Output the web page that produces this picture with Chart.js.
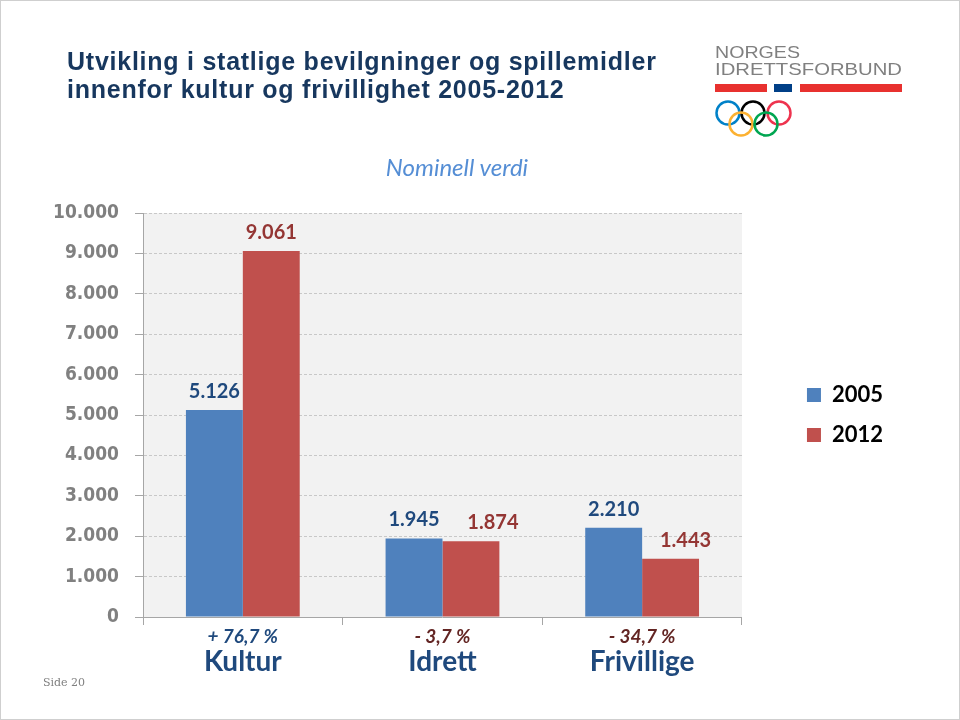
<!DOCTYPE html>
<html lang="no">
<head>
<meta charset="utf-8">
<title>Utvikling i statlige bevilgninger og spillemidler</title>
<script src="https://cdn.jsdelivr.net/npm/chart.js@4.4.1/dist/chart.umd.min.js"></script>
<style>
	html, body { margin: 0; padding: 0; background: #fff; }
	#slide { position: relative; width: 960px; height: 720px; overflow: hidden; }
	#chart-wrap { position: absolute; left: 0; top: 0; width: 960px; height: 720px; }
	#frame { position: absolute; left: 0; top: 0; width: 960px; height: 720px; box-sizing: border-box; border: 1px solid #cfcfcf; pointer-events: none; }
	.slide-title { position: absolute; left: 67px; top: 47px; margin: 0; font: bold 25px "Liberation Sans", Arial, sans-serif; letter-spacing: 0.75px; line-height: 28px; color: #17375E; }
	.subtitle { position: absolute; left: 0; top: 152px; width: 914px; text-align: center; font: italic 24px Lato, sans-serif; color: #558ED5; }
	.page-no { position: absolute; left: 43px; top: 676px; font: 11px "DejaVu Serif", serif; color: #7f7f7f; }
	#logo { position: absolute; left: 700px; top: 30px; }
</style>
</head>
<body>
<div id="slide">
	<div id="chart-wrap"><canvas id="chart"></canvas></div>

	<h1 class="slide-title">Utvikling i statlige bevilgninger og spillemidler<br>innenfor kultur og frivillighet 2005-2012</h1>
	<div class="subtitle">Nominell verdi</div>
	<div class="page-no">Side 20</div>

	<!-- Norges Idrettsforbund logo -->
	<svg id="logo" width="220" height="120" viewBox="0 0 220 120">
		<text x="15" y="28" font-family="Liberation Sans, Arial" font-size="17" fill="#808080" textLength="85" lengthAdjust="spacingAndGlyphs">NORGES</text>
		<text x="15" y="45" font-family="Liberation Sans, Arial" font-size="17" fill="#808080" textLength="187" lengthAdjust="spacingAndGlyphs">IDRETTSFORBUND</text>
		<rect x="15" y="54" width="52" height="8" fill="#E8312F"></rect>
		<rect x="74" y="54" width="18" height="8" fill="#003F87"></rect>
		<rect x="100" y="54" width="102" height="8" fill="#E8312F"></rect>
		<g fill="none" stroke-width="2.5">
			<circle cx="28" cy="83" r="11.5" stroke="#0081C8"></circle>
			<circle cx="53" cy="83" r="11.5" stroke="#000000"></circle>
			<circle cx="79" cy="83" r="11.5" stroke="#EE334E"></circle>
			<circle cx="41" cy="94" r="11.5" stroke="#FCB131"></circle>
			<circle cx="66" cy="94" r="11.5" stroke="#00A651"></circle>
		</g>
	</svg>

	<div id="frame"></div>
</div>

<script>
// Chart data (in 1000 NOK)
var categories   = ['Kultur', 'Idrett', 'Frivillige'];
var changeLabels = ['+ 76,7 %', '- 3,7 %', '- 34,7 %'];
var seriesNames  = ['2005', '2012'];
var values2005   = [5126, 1945, 2210];
var values2012   = [9061, 1874, 1443];
var yMin         = 0;
var yMax         = 10000;
var yStep        = 1000;

(function () {
	'use strict';

	var BLUE       = '#4F81BD';
	var RED        = '#C0504D';
	var DARK_BLUE  = '#1F497D';
	var DARK_RED   = '#943634';
	var BROWN_RED  = '#632523';
	var AXIS_GRAY  = '#a6a6a6';

	// 5126 -> "5.126"
	function formatThousands(value) {
		return String(value).replace(/\B(?=(\d{3})+(?!\d))/g, '.');
	}

	// Light gray plot area behind the bars
	var plotBackground = {
		id: 'plotBackground',
		beforeDraw: function (chart, args, opts) {
			var area = chart.chartArea;
			var ctx  = chart.ctx;
			ctx.save();
			ctx.fillStyle = opts.color;
			ctx.fillRect(area.left, area.top, area.right - area.left, area.bottom - area.top);
			ctx.restore();
		}
	};

	// Value labels above each bar
	var valueLabels = {
		id: 'valueLabels',
		afterDatasetsDraw: function (chart, args, opts) {
			var ctx = chart.ctx;
			ctx.save();
			ctx.font = opts.font;
			ctx.textAlign = 'center';
			ctx.textBaseline = 'alphabetic';
			chart.data.datasets.forEach(function (ds, di) {
				var meta = chart.getDatasetMeta(di);
				ctx.fillStyle = opts.colors[di];
				meta.data.forEach(function (bar, i) {
					var nudge = (opts.nudge[di] && opts.nudge[di][i]) || 0;
					ctx.fillText(formatThousands(ds.data[i]), bar.x + nudge, bar.y - 12);
				});
			});
			ctx.restore();
		}
	};

	Chart.defaults.font.family = 'Lato, "Open Sans", sans-serif';

	var ctx = document.getElementById('chart');

	var config = {
		type: 'bar',
		data: {
			labels: categories,
			datasets: [
				{
					label: seriesNames[0],
					data: values2005,
					backgroundColor: BLUE,
					borderWidth: 0,
					xAxisID: 'x',
					yAxisID: 'y'
				},
				{
					label: seriesNames[1],
					data: values2012,
					backgroundColor: RED,
					borderWidth: 0,
					xAxisID: 'x',
					yAxisID: 'y'
				}
			]
		},
		options: {
			responsive: true,
			maintainAspectRatio: false,
			animation: false,
			categoryPercentage: 0.57,
			barPercentage: 1.0,
			layout: {
				padding: { top: 213, right: 67, bottom: 33, left: 0 }
			},
			plugins: {
				title: { display: false },
				tooltip: { enabled: false },
				legend: {
					display: true,
					position: 'right',
					align: 'center',
					fullSize: false,
					labels: {
						boxWidth: 14,
						boxHeight: 14,
						padding: 18,
						color: '#000000',
						font: { size: 22, weight: 'bold' }
					}
				},
				plotBackground: { color: '#f2f2f2' },
				valueLabels: {
					font: 'bold 20px Lato, "Open Sans", sans-serif',
					colors: [DARK_BLUE, DARK_RED],
					nudge: [[0, 0, 0], [0, 22, 15]]
				}
			},
			scales: {
				x: {
					type: 'category',
					position: 'bottom',
					offset: true,
					grid: {
						display: true,
						offset: true,
						drawOnChartArea: false,
						drawTicks: true,
						tickLength: 8,
						color: AXIS_GRAY
					},
					border: { display: true, color: AXIS_GRAY },
					ticks: {
						callback: function (value, index) {
							return changeLabels[index];
						},
						color: function (c) {
							return c.index === 0 ? DARK_BLUE : BROWN_RED;
						},
						font: { size: 19, weight: 'bold', style: 'italic' },
						padding: 0,
						maxRotation: 0
					},
					afterFit: function (scale) {
						scale.height = 31;
					}
				},
				y: {
					type: 'linear',
					position: 'left',
					min: yMin,
					max: yMax,
					grid: {
						color: '#c8c8c8',
						lineWidth: 1,
						drawTicks: true,
						tickLength: 8,
						tickColor: AXIS_GRAY
					},
					border: { display: true, color: AXIS_GRAY, dash: [3, 2] },
					ticks: {
						stepSize: yStep,
						padding: 16,
						color: '#808080',
						font: { family: '"DejaVu Sans Condensed", "DejaVu Sans", sans-serif', size: 19, weight: 'bold' },
						callback: function (value) {
							return formatThousands(value);
						}
					},
					afterFit: function (scale) {
						scale.width = 143;
					}
				},
				x2: {
					type: 'category',
					position: 'bottom',
					labels: categories,
					offset: true,
					grid: { display: false },
					border: { display: false },
					ticks: {
						color: DARK_BLUE,
						font: { size: 28, weight: 'bold', lineHeight: 0.45 },
						padding: 0,
						maxRotation: 0
					},
					afterFit: function (scale) {
						scale.height = 39;
					}
				},
				// empty spacer so the legend sits clear of the plot
				spacer: {
					type: 'linear',
					position: 'right',
					display: true,
					grid: { display: false },
					border: { display: false },
					ticks: { display: false },
					afterFit: function (scale) {
						scale.width = 47;
					}
				}
			}
		},
		plugins: [plotBackground, valueLabels]
	};

	new Chart(ctx, config);
})();
</script>
</body>
</html>
